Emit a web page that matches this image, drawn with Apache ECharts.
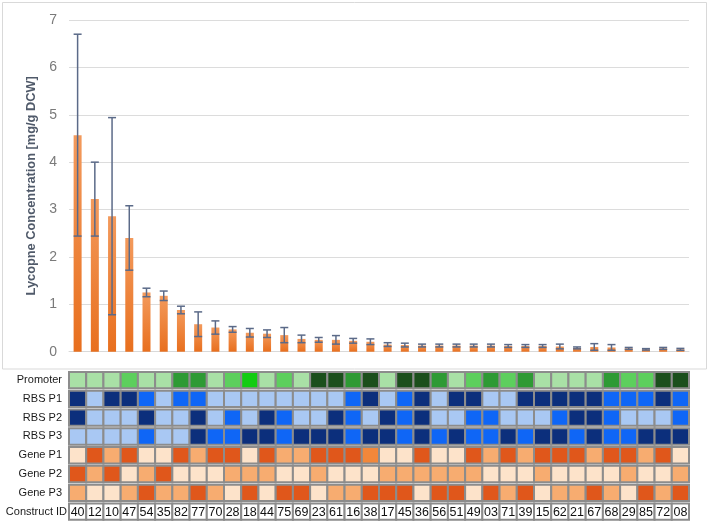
<!DOCTYPE html>
<html><head><meta charset="utf-8">
<script src="https://cdn.jsdelivr.net/npm/echarts@6/dist/echarts.min.js"></script>
<style>html,body{margin:0;padding:0;background:#fff}#c{width:709px;height:521px}</style>
</head><body><div id="c"></div>
<script>
// ---- data ----
const constructIds = ['40','12','10','47','54','35','82','77','70','28','18','44','75','69','23','61','16','38','17','45','36','56','51','49','03','71','39','15','62','21','67','68','29','85','72','08'];
const lycopene = [4.57,3.22,2.86,2.40,1.25,1.18,0.88,0.58,0.51,0.47,0.40,0.38,0.35,0.27,0.25,0.25,0.23,0.21,0.15,0.14,0.13,0.13,0.13,0.13,0.13,0.12,0.12,0.12,0.11,0.08,0.10,0.09,0.07,0.05,0.07,0.05];
const lycopeneErr = [2.13,0.78,2.08,0.68,0.09,0.10,0.08,0.26,0.14,0.06,0.09,0.08,0.16,0.08,0.05,0.09,0.05,0.06,0.04,0.04,0.03,0.03,0.03,0.03,0.03,0.03,0.03,0.03,0.05,0.02,0.07,0.06,0.02,0.015,0.02,0.02];
const yTicks = [0,1,2,3,4,5,6,7];
const rowLabels = ['Promoter','RBS P1','RBS P2','RBS P3','Gene P1','Gene P2','Gene P3','Construct ID'];
// part levels per construct (letters = level codes)
const promoter = 'LLLMLLDDLMBLMLVVDVLVVDLMDMDLLLLDMMVV'.split('');
const rbsP1    = 'NLNNBLBBLLLLLLLLBNLBNLNNLLNNNNNBBBNB'.split('');
const rbsP2    = 'NLLLNLLNLBLNBLLNBLNBNLLBBLLLBNNBLLLB'.split('');
const rbsP3    = 'LLLLBLLNBBNNBNNNBNNBNBNBBNBNNBNBBNNN'.split('');
const geneP1   = 'PDMDPPDMDDPDMMDDDOPPDPPDMDMDDDMDDMDP'.split('');
const geneP2   = 'DMDPMDPPPMMMPPMPPPMMMMMMPPPMPPPPMPPM'.split('');
const geneP3   = 'MPPMDMMDMPDPDDPMMDDDPDDPDMDPMMDMPDMD'.split('');

// ---- styles ----
const promoterColors = {L:'#a9e0a6', M:'#5dcf5d', D:'#2e9a34', B:'#12cc12', V:'#1b4f1c'};
const rbsColors = {N:'#0c2f7c', B:'#0f66f6', L:'#a9c8f3'};
const geneColors = {P:'#fde3ca', M:'#f7ac70', D:'#e0571b', O:'#f2873a'};

const partRows = [
  [promoter, promoterColors],[rbsP1, rbsColors],[rbsP2, rbsColors],[rbsP3, rbsColors],
  [geneP1, geneColors],[geneP2, geneColors],[geneP3, geneColors]
];
const cellData = [], cellColors = [];
partRows.forEach(([codes, pal], r) => {
  codes.forEach((code, c) => { cellData.push([c, r]); cellColors.push(pal[code]); });
});
const idData = constructIds.map((id, c) => [c, 7]);

const chart = echarts.init(document.getElementById('c'), null, {renderer:'canvas'});
const font = 'Liberation Sans, Arial, sans-serif';

function cellItem(params, api){
  const p = api.coord([api.value(0), api.value(1)]);
  const s = api.size([1, 1]);
  const w = s[0], h = s[1] - 2.4;
  return {type:'rect', shape:{x:p[0]-w/2, y:p[1]-h/2, width:w, height:h},
    style:{fill:cellColors[params.dataIndex], stroke:'#8c8c8c', lineWidth:2}};
}
function idItem(params, api){
  const p = api.coord([api.value(0), api.value(1)]);
  const s = api.size([1, 1]);
  const w = s[0], h = s[1] - 2.4;
  return {type:'group', children:[
    {type:'rect', shape:{x:p[0]-w/2, y:p[1]-h/2, width:w, height:h},
      style:{fill:'#ffffff', stroke:'#8c8c8c', lineWidth:2}},
    {type:'text', x:p[0], y:p[1]+0.5,
      style:{text:constructIds[params.dataIndex], fill:'#111', font:'12.5px ' + font, align:'center', verticalAlign:'middle'}}
  ]};
}
function errItem(params, api){
  const i = api.value(0), v = api.value(1), e = api.value(2);
  const t = api.coord([i, v + e]), b = api.coord([i, v - e]);
  const hw = 4;
  const st = {stroke:'#5b6a88', lineWidth:1.5};
  return {type:'group', children:[
    {type:'line', shape:{x1:t[0], y1:t[1], x2:b[0], y2:b[1]}, style:st},
    {type:'line', shape:{x1:t[0]-hw, y1:t[1], x2:t[0]+hw, y2:t[1]}, style:st},
    {type:'line', shape:{x1:b[0]-hw, y1:b[1], x2:b[0]+hw, y2:b[1]}, style:st}
  ]};
}

const option = {
  animation:false,
  backgroundColor:'#ffffff',
  graphic:[{type:'rect', shape:{x:2.5, y:2.5, width:704, height:366.5}, style:{fill:'none', stroke:'#d9d9d9', lineWidth:1}, z:-10}],
  grid:[
    {left:69, right:20, top:20, bottom:169.3, containLabel:false, outerBoundsMode:'none'},
    {left:69, right:20, top:370.7, height:150.3, containLabel:false, outerBoundsMode:'none'}
  ],
  xAxis:[
    {type:'category', gridIndex:0, data:constructIds, boundaryGap:true,
      axisLine:{show:true, lineStyle:{color:'#d9d9d9', width:1}}, axisTick:{show:false}, axisLabel:{show:false}},
    {type:'category', gridIndex:1, data:constructIds, boundaryGap:true,
      axisLine:{show:false}, axisTick:{show:false}, axisLabel:{show:false}}
  ],
  yAxis:[
    {type:'value', gridIndex:0, min:yTicks[0], max:yTicks[yTicks.length-1], interval:1,
      axisLine:{show:false}, axisTick:{show:false},
      splitLine:{show:true, lineStyle:{color:'#dcdcdc', width:1}},
      axisLabel:{color:'#7a7a7a', fontSize:14, fontFamily:font, margin:12},
      name:'Lycopne Concentration [mg/g DCW]', nameLocation:'middle', nameGap:28, nameRotate:90,
      nameTextStyle:{color:'#505a6a', fontSize:12.8, fontWeight:'bold', fontFamily:font}},
    {type:'category', gridIndex:1, data:rowLabels, inverse:true,
      axisLine:{show:false}, axisTick:{show:false}, splitLine:{show:false},
      axisLabel:{margin:2, fontFamily:font, fontSize:11, color:'#1a1a1a',
        formatter:(v)=> v === 'Construct ID' ? '{b|' + v + '}' : '{a|' + v + '}',
        rich:{a:{fontSize:11, fontFamily:font, color:'#1a1a1a', padding:[0,5,0,0]},
              b:{fontSize:11, fontFamily:font, color:'#1a1a1a', padding:[0,0,0,0]}}}}
  ],
  series:[
    {type:'bar', xAxisIndex:0, yAxisIndex:0, data:lycopene, barWidth:8,
      itemStyle:{color:new echarts.graphic.LinearGradient(0,0,0,1,[{offset:0,color:'#f39a5c'},{offset:1,color:'#e86f1e'}])}},
    {type:'custom', xAxisIndex:0, yAxisIndex:0, renderItem:errItem,
      data:lycopene.map((v,i)=>[i, v, lycopeneErr[i]]), z:5},
    {type:'custom', xAxisIndex:1, yAxisIndex:1, renderItem:cellItem, data:cellData},
    {type:'custom', xAxisIndex:1, yAxisIndex:1, renderItem:idItem, data:idData}
  ]
};
chart.setOption(option);
</script>
</body></html>
